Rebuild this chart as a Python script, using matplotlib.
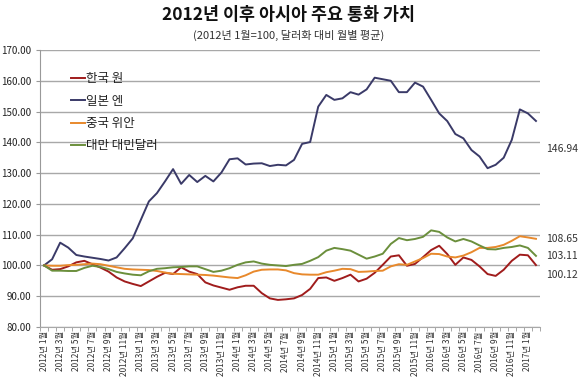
import matplotlib
matplotlib.use("Agg")
import matplotlib.pyplot as plt
import numpy as np
from matplotlib.ticker import FixedLocator

plt.rcParams['font.family'] = ['Noto Sans CJK KR', 'DejaVu Sans']

# months: 2012-01 .. 2017-02
years = [2012 + (i // 12) for i in range(62)]
months = [(i % 12) + 1 for i in range(62)]
month_labels = [f"{y}년 {m}월" for y, m in zip(years, months)]

korea = [100, 98.6, 98.8, 99.7, 101.0, 101.5, 100.4, 99.3, 98.0, 96.1,
         94.8, 94.0, 93.3, 94.8, 96.3, 97.6, 97.2, 99.4, 98.0, 97.2,
         94.5, 93.5, 92.8, 92.1, 92.9, 93.4, 93.4, 91.0, 89.3, 88.8,
         89.0, 89.3, 90.4, 92.4, 95.9, 96.1, 95.0, 95.9, 97.0, 94.8,
         95.7, 97.6, 100.2, 102.9, 103.3, 99.9, 100.5, 102.7, 105.0, 106.4,
         103.7, 100.2, 102.6, 101.8, 99.7, 97.2, 96.6, 98.6, 101.5, 103.5,
         103.3, 100.12]
japan = [100, 102.0, 107.4, 105.8, 103.4, 102.9, 102.5, 102.1, 101.6, 102.6,
         105.6, 108.8, 114.8, 120.8, 123.5, 127.3, 131.3, 126.5, 129.4, 127.1,
         129.1, 127.3, 130.2, 134.5, 134.8, 132.8, 133.1, 133.2, 132.3, 132.7,
         132.5, 134.3, 139.5, 140.1, 151.6, 155.4, 153.8, 154.3, 156.3, 155.5,
         157.2, 161.0, 160.5, 160.0, 156.3, 156.3, 159.4, 158.1, 153.8, 149.4,
         146.9, 142.7, 141.3, 137.5, 135.4, 131.6, 132.7, 135.0, 140.8, 150.7,
         149.4, 146.94]
china = [100, 99.9, 99.9, 100.1, 100.2, 100.4, 100.6, 100.4, 99.9, 99.4,
         98.9, 98.7, 98.6, 98.5, 98.2, 97.7, 97.3, 97.2, 97.1, 97.0,
         96.9, 96.7, 96.4, 96.1, 95.9, 96.8, 98.0, 98.6, 98.7, 98.7,
         98.4, 97.5, 97.1, 97.0, 97.0, 97.8, 98.3, 98.9, 98.8, 97.9,
         98.0, 98.2, 98.3, 99.7, 100.4, 100.2, 101.3, 102.4, 103.8, 103.7,
         102.9, 102.6, 103.2, 104.3, 105.7, 105.7, 106.0, 106.7, 108.0, 109.5,
         109.1, 108.65]
taiwan = [100, 98.3, 98.3, 98.2, 98.2, 99.2, 99.9, 99.5, 98.8, 97.9,
          97.4, 97.0, 96.8, 98.1, 98.9, 99.1, 99.4, 99.5, 99.7, 99.7,
          98.8, 97.9, 98.3, 99.1, 100.2, 101.0, 101.3, 100.6, 100.2, 100.0,
          99.8, 100.2, 100.5, 101.5, 102.7, 104.8, 105.7, 105.3, 104.8, 103.5,
          102.2, 102.9, 103.8, 107.0, 108.9, 108.2, 108.6, 109.3, 111.4, 110.9,
          109.1, 107.8, 108.6, 107.8, 106.5, 105.3, 105.2, 105.7, 106.0, 106.5,
          105.7, 103.11]

series_names = ["한국 원", "일본 엔", "중국 위안", "대만 대민달러"]
colors = ["#a01c1c", "#3a3a68", "#e8892c", "#6b8f3c"]
end_labels = ["100.12", "146.94", "108.65", "103.11"]

title = "2012년 이후 아시아 주요 통화 가치"
subtitle = "(2012년 1월=100, 달러화 대비 월별 평균)"
yticks = [80, 90, 100, 110, 120, 130, 140, 150, 160, 170]

fig = plt.figure(figsize=(5.78, 3.80), dpi=100)
ax = fig.add_axes([40/578, 1-327/380, 500/578, 277/380])

x = np.arange(len(month_labels))
data = [korea, japan, china, taiwan]
for vals, c, name in zip(data, colors, series_names):
    ax.plot(x, vals, color=c, lw=1.4, label=name, solid_joinstyle='round')

ax.set_xlim(-0.5, len(month_labels) - 0.5)
ax.set_ylim(80, 170)
ax.set_yticks(yticks)
ax.set_yticklabels([f"{v:.2f}" for v in yticks], fontsize=7, color="#222222")
ax.yaxis.grid(True, color="#a8a8a8", lw=1.0)
ax.set_axisbelow(True)
ax.tick_params(axis='y', length=3, color="#999999", pad=3)

lab_pos = x[::2]
ax.set_xticks(lab_pos)
ax.set_xticklabels([month_labels[i] for i in lab_pos], rotation=90,
                   fontsize=6, color="#333333")
ax.xaxis.set_minor_locator(FixedLocator(np.arange(-0.5, len(month_labels), 1)))
ax.tick_params(axis='x', which='major', length=0, pad=3)
ax.tick_params(axis='x', which='minor', length=3, color="#999999")

for s in ['top', 'right']:
    ax.spines[s].set_visible(False)
ax.spines['left'].set_color("#999999")
ax.spines['bottom'].set_color("#a8a8a8")

leg = ax.legend(loc='upper left', bbox_to_anchor=(0.04, 0.96), frameon=False,
                fontsize=9, handlelength=1.1, handletextpad=0.1,
                labelspacing=0.75)
for t in leg.get_texts():
    t.set_color("#222222")

offsets = [-10, -27, 0, 0]
last = len(month_labels) - 1
for vals, lab, off in zip(data, end_labels, offsets):
    ax.annotate(lab, xy=(last, vals[-1]), xytext=(7, off * 0.75),
                textcoords='offset points', fontsize=7.5, color="#333333",
                va='center', ha='left', annotation_clip=False)

fig.text(0.5, 1-15/380, title, ha='center', va='center', fontsize=12.5,
         fontweight='bold', color="#111111")
fig.text(0.5, 1-35/380, subtitle, ha='center', va='center', fontsize=8,
         color="#333333")

fig.savefig("out.png", dpi=100)
